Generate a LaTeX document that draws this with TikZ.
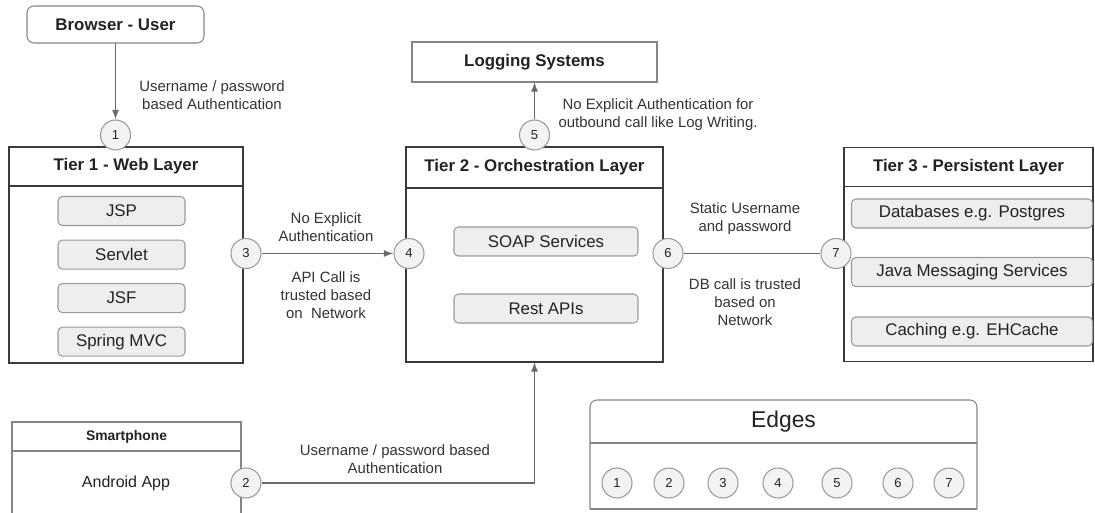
\documentclass[tikz,border=0pt]{standalone}
\usepackage{fontspec}
\setmainfont{Liberation Sans}
\usepackage{xcolor}
\usepackage{tikz}
\usetikzlibrary{positioning, shapes.geometric, arrows.meta}
\definecolor{tierline}{HTML}{3A3A3A}
\definecolor{boxline}{HTML}{858585}
\definecolor{itemline}{HTML}{9A9A9A}
\definecolor{itemfill}{HTML}{EEEEEE}
\definecolor{wireline}{HTML}{6A6A6A}
\definecolor{textdark}{HTML}{222222}
\definecolor{textlabel}{HTML}{333333}
\tikzset{
    tierhead/.style={
        draw = tierline, line width = 0.9pt,
        outer sep = 0pt, inner sep = 0pt,
        text = textdark,
        font = \bfseries\fontsize{9.6}{11}\selectfont
    },
    tierbody/.style = {draw = tierline, line width = 0.9pt, outer sep = 0pt},
    plainbox/.style = {
        draw = boxline, line width = 0.6pt,
        outer sep = 0pt, inner sep = 0pt,
        text = textdark,
        font = \bfseries\fontsize{9.6}{11}\selectfont
    },
    item/.style = {
        draw = itemline, fill = itemfill,
        rounded corners = 2.5pt, line width = 0.6pt,
        minimum height = 0.58cm, inner sep = 0pt,
        text = textdark,
        font = \fontsize{9.6}{11}\selectfont
    },
    edgenum/.style = {
        circle, draw = itemline, fill = itemfill!70!white,
        minimum size = 0.6cm, inner sep = 0pt, line width = 0.6pt,
        text = textdark,
        font = \fontsize{7.4}{8}\selectfont
    },
    lbl/.style = {
        align = center, text = textlabel, inner sep = 0pt,
        font = \fontsize{8.5}{10.2}\selectfont
    },
    link/.style = {-{Latex[length = 5.5pt, width = 4pt]}, draw = wireline, line width = 0.7pt},
    wire/.style = {draw = wireline, line width = 0.7pt}
}

\begin{document}
\begin{tikzpicture}

    \useasboundingbox (0,0) rectangle (21.9,10.24);

    % Browser
    \node[plainbox, rounded corners = 4pt, minimum width = 3.54cm, minimum height = 0.74cm] (browser) at (2.31,9.75) {Browser - User};

    % Tier 1
    \node[tierhead, minimum width = 4.68cm, minimum height = 0.78cm] (t1head) at (2.52,6.91) {Tier 1 - Web Layer};
    \node[tierbody, minimum width = 4.68cm, minimum height = 3.54cm, below = 0pt of t1head] (t1body) {};
    \node[item, minimum width = 2.54cm] (jsp) at (2.43,6.02) {JSP};
    \node[item, minimum width = 2.54cm, below = 0.27cm of jsp] (servlet) {Servlet};
    \node[item, minimum width = 2.54cm, below = 0.27cm of servlet] (jsf) {JSF};
    \node[item, minimum width = 2.54cm, below = 0.27cm of jsf] (mvc) {Spring MVC};

    % Logging
    \node[plainbox, minimum width = 4.9cm, minimum height = 0.8cm] (logging) at (10.69,9.0) {Logging Systems};

    % Tier 2
    \node[tierhead, minimum width = 5.14cm, minimum height = 0.82cm] (t2head) at (10.69,6.89) {Tier 2 - Orchestration Layer};
    \node[tierbody, minimum width = 5.14cm, minimum height = 3.48cm, below = 0pt of t2head] (t2body) {};
    \node[item, minimum width = 3.68cm] (soap) at (10.92,5.41) {SOAP Services};
    \node[item, minimum width = 3.68cm] (rest) at (10.92,4.07) {Rest APIs};

    % Tier 3
    \node[tierhead, minimum width = 4.98cm, minimum height = 0.78cm] (t3head) at (19.37,6.90) {Tier 3 - Persistent Layer};
    \node[tierbody, minimum width = 4.98cm, minimum height = 3.5cm, below = 0pt of t3head] (t3body) {};
    \node[item, minimum width = 4.82cm] (db) at (19.44,5.97) {Databases e.g. Postgres};
    \node[item, minimum width = 4.82cm] (jms) at (19.44,4.80) {Java Messaging Services};
    \node[item, minimum width = 4.82cm] (cache) at (19.44,3.61) {Caching e.g. EHCache};

    % Smartphone
    \node[plainbox, minimum width = 4.58cm, minimum height = 0.58cm, font = \bfseries\fontsize{7.9}{9}\selectfont] (phonehead) at (2.53,1.51) {Smartphone};
    \node[plainbox, minimum width = 4.58cm, minimum height = 1.5cm, below = 0pt of phonehead] (phonebody) {};
    \node[text = textdark, font = \fontsize{9.1}{11}\selectfont] (android) at (2.52,0.58) {Android App};

    % Edges legend
    \node[minimum width = 7.74cm, minimum height = 0.86cm, outer sep = 0pt, text = textdark, font = \fontsize{13}{15}\selectfont] (edgehead) at (15.67,1.81) {Edges};
    \node[minimum width = 7.74cm, minimum height = 1.32cm, outer sep = 0pt, below = 0pt of edgehead] (edgebody) {};
    \draw[draw = boxline, line width = 0.6pt, rounded corners = 4pt] (edgebody.south west) -- (edgehead.north west) -- (edgehead.north east) -- (edgebody.south east);
    \draw[draw = boxline, line width = 0.6pt] (edgebody.south west) -- (edgebody.south east) (edgehead.south west) -- (edgehead.south east);
    \foreach \i/\x in {1/12.34, 2/13.38, 3/14.46, 4/15.56, 5/16.74, 6/17.96, 7/18.98}
        \node[edgenum] (e\i) at (\x,0.58) {\i};

    % Edge markers
    \node[edgenum] (c1) at (2.31,7.54) {1};
    \node[edgenum] (c2) at (4.92,0.58) {2};
    \node[edgenum] (c3) at (4.92,5.17) {3};
    \node[edgenum] (c4) at (8.18,5.17) {4};
    \node[edgenum] (c5) at (10.69,7.54) {5};
    \node[edgenum] (c6) at (13.36,5.17) {6};
    \node[edgenum] (c7) at (16.72,5.17) {7};

    % Lines
    \draw[link] (browser) -- (c1);
    \draw[link] (c3) -- (c4);
    \draw[link] (c5) -- (logging);
    \draw[wire] (c6) -- (c7);
    \draw[link] (c2) -| (t2body.south);

    % Labels
    \node[lbl] (l1) at (4.24,8.34) {Username / password\\based Authentication};
    \node[lbl] (l3a) at (6.52,5.70) {No Explicit\\Authentication};
    \node[lbl] (l3b) at (6.52,4.34) {API Call is\\trusted based\\on\ \ Network};
    \node[lbl] (l5) at (13.16,7.94) {No Explicit Authentication for\\outbound call like Log Writing.};
    \node[lbl] (l6a) at (14.90,5.87) {Static Username\\and password};
    \node[lbl] (l6b) at (14.90,4.19) {DB call is trusted\\based on\\Network};
    \node[lbl] (l2) at (7.90,1.06) {Username / password based\\Authentication};

\end{tikzpicture}
\end{document}
